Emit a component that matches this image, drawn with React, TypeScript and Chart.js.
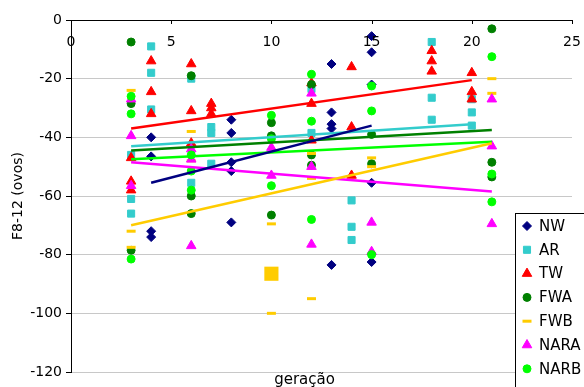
import React, { useEffect, useRef } from 'react';
import { Chart, registerables } from 'chart.js';
import { drawPoint } from 'chart.js/helpers';

Chart.register(...registerables);

// ---- data ----
const SERIES_NAMES = ['NW', 'AR', 'TW', 'FWA', 'FWB', 'NARA', 'NARB'];

const NW_GEN = [4, 4, 4, 4, 8, 8, 8, 8, 8, 13, 13, 13, 13, 13, 15, 15, 15, 15, 15];
const NW_VAL = [-40, -46.5, -72, -74, -34, -38.5, -48.5, -51.5, -69, -15, -31.5, -35.5, -37, -83.5, -5.5, -11, -22, -55.5, -82.5];

const AR_GEN = [3, 3, 3, 4, 4, 4, 6, 6, 7, 7, 7, 12, 12, 14, 14, 14, 18, 18, 18, 20, 20, 20];
const AR_VAL = [-46, -61, -66, -9, -18, -30.5, -20, -55.5, -36.5, -38.5, -49, -23.5, -38.5, -61.5, -70.5, -75, -7.5, -26.5, -34, -27, -31.5, -36];

const TW_GEN = [3, 3, 3, 4, 4, 4, 6, 6, 6, 7, 7, 7, 12, 12, 12, 14, 14, 14, 18, 18, 18, 20, 20, 20];
const TW_VAL = [-47, -55, -58, -14, -24.5, -32, -15, -31, -42, -28.5, -30, -32, -21.5, -28.5, -41, -16, -36.5, -53, -10.5, -14, -17.5, -18, -24.5, -27];

const FWA_GEN = [3, 3, 3, 6, 6, 6, 10, 10, 10, 12, 12, 12, 15, 15, 21, 21, 21];
const FWA_VAL = [-7.5, -28.5, -78.5, -19, -60, -66, -35, -39.5, -66.5, -22, -46, -49.5, -39, -49, -3, -48.5, -53.5];

const FWB_GEN = [3, 3, 3, 6, 6, 10, 10, 12, 12, 12, 15, 15, 21, 21];
const FWB_VAL = [-24, -72, -77.5, -38, -48, -69.5, -100, -45.5, -54, -95, -47, -50, -20, -25];

// highlighted (large square) FWB point
const FWB_MARK_GEN = [10];
const FWB_MARK_VAL = [-86.5];

const NARA_GEN = [3, 3, 3, 6, 6, 6, 10, 10, 12, 12, 12, 15, 15, 21, 21, 21];
const NARA_VAL = [-27, -39.5, -56.5, -44, -47.5, -77, -43.5, -53, -25, -50, -76.5, -69, -79, -27, -43, -69.5];

const NARB_GEN = [3, 3, 3, 6, 6, 6, 10, 10, 10, 12, 12, 12, 15, 15, 15, 21, 21, 21];
const NARB_VAL = [-26, -32, -81.5, -46, -51.5, -58, -32.5, -40.5, -56.5, -18.5, -34.5, -68, -22.5, -31, -80, -12.5, -52.5, -62];

// linear trend lines (start / end) per series, in SERIES_NAMES order
const TREND_START_GEN = [4, 3, 3, 3, 3, 3, 3];
const TREND_END_GEN = [15, 20, 20, 21, 21, 21, 21];
const TREND_START_VAL = [-55.5, -43, -37, -44.5, -70, -48.5, -47.5];
const TREND_END_VAL = [-36, -35.5, -20.5, -37.5, -42, -58.5, -41.5];

const X_TICKS = [0, 5, 10, 15, 20, 25];
const X_TITLE = 'geração';
const Y_TITLE = 'F8-12 (ovos)';

// ---- styles ----
const COLORS = ['#000080', '#33cccc', '#ff0000', '#008000', '#ffcc00', '#ff00ff', '#00ff00'];
const SHAPES = ['rectRot', 'rect', 'triangle', 'circle', 'line', 'triangle', 'circle'];
const RADII = [4.5, 5, 5.5, 4, 4.5, 5.5, 4];
const FONT = '"DejaVu Sans", "Liberation Sans", Arial, sans-serif';

const SERIES_GEN = [NW_GEN, AR_GEN, TW_GEN, FWA_GEN, FWB_GEN, NARA_GEN, NARB_GEN];
const SERIES_VAL = [NW_VAL, AR_VAL, TW_VAL, FWA_VAL, FWB_VAL, NARA_VAL, NARB_VAL];

const overlayPlugin = {
  id: 'overlay',
  afterDraw(chart: any) {
    const ctx = chart.ctx as CanvasRenderingContext2D;
    const xs = chart.scales.x;
    const area = chart.chartArea;
    ctx.save();
    // x ticks (inside) and labels below axis line
    ctx.strokeStyle = '#000';
    ctx.fillStyle = '#000';
    ctx.lineWidth = 1;
    ctx.font = `14px ${FONT}`;
    ctx.textAlign = 'center';
    ctx.textBaseline = 'middle';
    X_TICKS.forEach((v) => {
      const p = xs.getPixelForValue(v);
      const px = Math.round(p) + 0.5;
      ctx.beginPath();
      ctx.moveTo(px, area.top);
      ctx.lineTo(px, area.top + 4);
      ctx.stroke();
      ctx.fillText(String(v), p, area.top + 22);
    });
    // bottom x title
    ctx.font = `15px ${FONT}`;
    ctx.textBaseline = 'alphabetic';
    ctx.fillText(X_TITLE, (area.left + area.right) / 2 - 17, 384);

    // legend box
    const lx = 515.5;
    const ly = 213.5;
    ctx.fillStyle = '#ffffff';
    ctx.fillRect(lx, ly, 90, 190);
    ctx.strokeStyle = '#000';
    ctx.lineWidth = 1;
    ctx.strokeRect(lx, ly, 90, 190);
    ctx.font = `15px ${FONT}`;
    ctx.textAlign = 'left';
    ctx.textBaseline = 'middle';
    SERIES_NAMES.forEach((name, i) => {
      const y = 226 + i * 23.8;
      ctx.fillStyle = COLORS[i];
      ctx.strokeStyle = COLORS[i];
      const isLine = SHAPES[i] === 'line';
      ctx.lineWidth = isLine ? 3 : 1;
      drawPoint(ctx, { pointStyle: SHAPES[i], rotation: 0, radius: RADII[i], borderWidth: isLine ? 3 : 1 } as any, 527, y);
      ctx.fillStyle = '#000';
      ctx.fillText(name, 539, y + 1);
    });
    ctx.restore();
  },
};

export default function App() {
  const canvasRef = useRef<HTMLCanvasElement | null>(null);

  useEffect(() => {
    document.body.style.margin = '0';
    const canvas = canvasRef.current;
    if (!canvas) return;

    const pointSets = SERIES_NAMES.map((name, i) => ({
      type: 'scatter' as const,
      label: name,
      data: SERIES_GEN[i].map((g, k) => ({ x: g, y: SERIES_VAL[i][k] })),
      pointStyle: SHAPES[i],
      pointRadius: RADII[i],
      pointBackgroundColor: COLORS[i],
      pointBorderColor: COLORS[i],
      pointBorderWidth: SHAPES[i] === 'line' ? 3 : 1,
      showLine: false,
      order: 10 - i,
    }));

    const markSet = {
      type: 'scatter' as const,
      label: 'FWB*',
      data: FWB_MARK_GEN.map((g, k) => ({ x: g, y: FWB_MARK_VAL[k] })),
      pointStyle: 'rect',
      pointRadius: 10,
      pointBackgroundColor: '#ffcc00',
      pointBorderColor: '#ffcc00',
      pointBorderWidth: 0,
      showLine: false,
      order: 20,
    };

    const trendSets = SERIES_NAMES.map((name, i) => ({
      type: 'scatter' as const,
      label: name + ' trend',
      data: [
        { x: TREND_START_GEN[i], y: TREND_START_VAL[i] },
        { x: TREND_END_GEN[i], y: TREND_END_VAL[i] },
      ],
      showLine: true,
      borderColor: COLORS[i],
      borderWidth: 2.5,
      pointRadius: 0,
      fill: false,
      order: 1,
    }));

    const chart = new Chart(canvas, {
      type: 'scatter',
      data: { datasets: [...pointSets, markSet, ...trendSets] as any },
      options: {
        animation: false,
        responsive: false,
        devicePixelRatio: 1,
        layout: { padding: { top: 0, right: 12, bottom: 15, left: 0 } },
        plugins: {
          legend: { display: false },
          tooltip: { enabled: false },
          title: { display: false },
        },
        scales: {
          x: {
            type: 'linear',
            position: 'top',
            min: 0,
            max: 25,
            ticks: { display: false, stepSize: 5 },
            grid: { display: false },
            border: { display: true, color: '#000', width: 1 },
            afterFit: (s: any) => {
              s.height = 20;
            },
          },
          y: {
            type: 'linear',
            position: 'left',
            min: -120,
            max: 0,
            ticks: {
              stepSize: 20,
              color: '#000',
              padding: 4,
              font: { family: FONT, size: 14 },
            },
            grid: {
              color: '#c8c8c8',
              lineWidth: 1,
              tickColor: '#000',
              tickLength: 5,
            },
            border: { display: true, color: '#000', width: 1 },
            title: {
              display: true,
              text: Y_TITLE,
              color: '#000',
              font: { family: FONT, size: 14 },
              padding: { top: 10, bottom: 0 },
            },
            afterFit: (s: any) => {
              s.width = 71;
            },
          },
        },
      },
      plugins: [overlayPlugin],
    });

    return () => chart.destroy();
  }, []);

  return (
    <div style={{ width: 584, height: 387, background: '#fff' }}>
      <canvas ref={canvasRef} width={584} height={387} />
    </div>
  );
}
